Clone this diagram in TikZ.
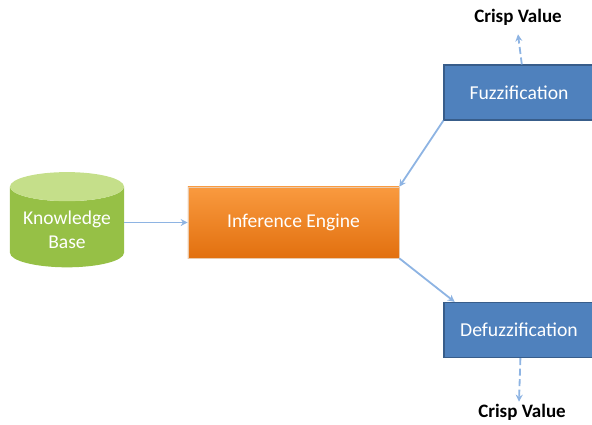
\documentclass[tikz,border=0pt]{standalone}
\usepackage{fontspec}
\setmainfont{Carlito}
\usetikzlibrary{shapes.geometric, arrows.meta}

\definecolor{boxblue}{HTML}{4F81BD}
\definecolor{boxblueline}{HTML}{385D8A}
\definecolor{engtop}{HTML}{F99A3F}
\definecolor{engbot}{HTML}{E2700F}
\definecolor{kbtop}{HTML}{C5DF8A}
\definecolor{kbbody}{HTML}{96C046}
\definecolor{linkblue}{HTML}{8EB4E3}

\begin{document}
\begin{tikzpicture}[x=0.025cm,y=0.025cm,>={Stealth[length=5pt,width=5pt]},
	blockbox/.style={draw=boxblueline, fill=boxblue, line width=0.8pt, minimum width=3.75cm, minimum height=1.375cm, text=white, font=\fontsize{14}{16}\selectfont},
	link/.style={->, draw=linkblue, line width=1.3pt},
	dashlink/.style={link, dashed, dash pattern=on 5pt off 2.5pt},
	crisp/.style={font=\fontsize{13.5}{15}\selectfont\bfseries}]
		\useasboundingbox (0,0) rectangle (592,424);
		\clip (0,0) rectangle (592,424);
		
		% Wissensbasis
		\node[cylinder, shape border rotate=90, aspect=0.3, minimum width=2.85cm, minimum height=2.38cm,
			cylinder uses custom fill, cylinder body fill=kbbody, cylinder end fill=kbtop, draw=none,
			text=white, align=center, font=\fontsize{13.9}{17}\selectfont] (kb) at (67,194) {Knowledge\\Base};
		
		% Inferenz
		\node[top color=engtop, bottom color=engbot, draw=engtop!80!black!40, minimum width=5.275cm, minimum height=1.775cm,
			text=white, font=\fontsize{13.9}{16}\selectfont] (inf) at (293.5,201.5) {Inference Engine};
		
		% Fuzzy-Bloecke
		\node[blockbox] (fuzz) at (519,331.5) {Fuzzification};
		\node[blockbox] (defuzz) at (519,94) {Defuzzification};
		
		% Ausgaben
		\node[crisp] (crisptop) at (518,407) {Crisp Value};
		\node[crisp] (crispbot) at (522,12) {Crisp Value};
		
		% Verbindungen
		\draw[link] (kb.east |- inf.west) -- (inf.west);
		\draw[link] (fuzz.south west) -- (inf.north east);
		\draw[link] (inf.south east) -- ([xshift=8]defuzz.north west);
		\draw[dashlink] ([xshift=2]fuzz.north) -- ([yshift=-3]crisptop.south);
		\draw[dashlink] ([xshift=1]defuzz.south) -- ([yshift=-2]crispbot.north -| defuzz.south);
	\end{tikzpicture}
\end{document}
